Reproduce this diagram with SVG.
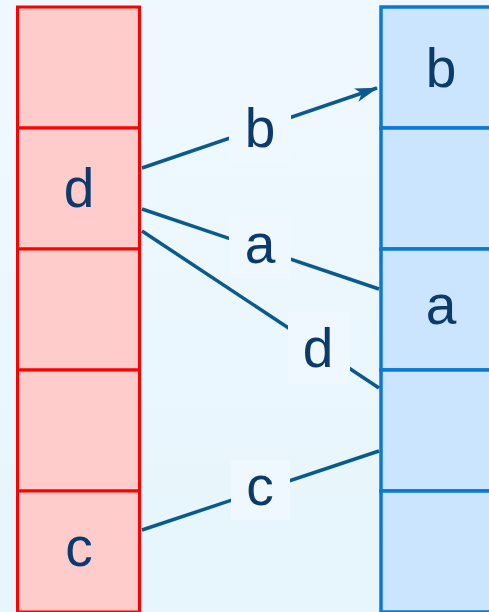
<svg xmlns="http://www.w3.org/2000/svg" width="489" height="612" viewBox="0 0 489 612">
  <defs>
    <linearGradient id="bg" x1="0" y1="0" x2="0" y2="1">
      <stop offset="0" stop-color="#f0f8ff"/>
      <stop offset="1" stop-color="#e6f6fc"/>
    </linearGradient>
    <marker id="arr" markerUnits="userSpaceOnUse" markerWidth="24" markerHeight="16" viewBox="0 0 24 16" refX="22" refY="8" orient="auto">
      <path d="M0,1 L23,8 L0,15 L6,8 Z" fill="#0b5a8e"/>
    </marker>
    <style>
      .L { fill: #ffcccc; stroke: #ff0000; stroke-width: 3; }
      .R { fill: #cce5ff; stroke: #0a78d7; stroke-width: 3.5; }
      .t { font-family: "Liberation Sans", Arial, sans-serif; font-size: 55px; fill: #0b3a6b; text-anchor: middle; }
      .c { stroke: #0b5a8e; stroke-width: 3.5; fill: none; }
      .lb { fill: #eff8fe; }
    </style>
  </defs>
  <rect width="489" height="612" fill="url(#bg)"/>

  <g id="left">
    <g id="L1"><rect class="L" x="17.5" y="7" width="122" height="121"/></g>
    <g id="L2"><rect class="L" x="17.5" y="128" width="122" height="121"/><text class="t" x="79" y="207">d</text></g>
    <g id="L3"><rect class="L" x="17.5" y="249" width="122" height="121"/></g>
    <g id="L4"><rect class="L" x="17.5" y="370" width="122" height="121"/></g>
    <g id="L5"><rect class="L" x="17.5" y="491" width="122" height="121"/><text class="t" x="79" y="566">c</text></g>
  </g>

  <g id="right">
    <g id="R1"><rect class="R" x="381" y="7" width="122" height="121"/><text class="t" x="441" y="87">b</text></g>
    <g id="R2"><rect class="R" x="381" y="128" width="122" height="121"/></g>
    <g id="R3"><rect class="R" x="381" y="249" width="122" height="121"/><text class="t" x="441" y="324">a</text></g>
    <g id="R4"><rect class="R" x="381" y="370" width="122" height="121"/></g>
    <g id="R5"><rect class="R" x="381" y="491" width="122" height="121"/></g>
  </g>

  <g id="connectors">
    <line class="c" x1="142" y1="168" x2="377" y2="88" marker-end="url(#arr)"/>
    <line class="c" x1="142" y1="209" x2="379" y2="289"/>
    <line class="c" x1="142" y1="231" x2="379" y2="388"/>
    <line class="c" x1="142" y1="530" x2="379" y2="451"/>
    <g id="lab-b"><rect class="lb" x="229" y="92" width="62" height="72"/><text class="t" x="260" y="147">b</text></g>
    <g id="lab-a"><rect class="lb" x="229" y="217" width="62" height="62"/><text class="t" x="260" y="263">a</text></g>
    <g id="lab-d"><rect class="lb" x="288" y="312" width="62" height="72"/><text class="t" x="318" y="367">d</text></g>
    <g id="lab-c"><rect class="lb" x="231" y="460" width="59" height="60"/><text class="t" x="260" y="505">c</text></g>
  </g>
</svg>
